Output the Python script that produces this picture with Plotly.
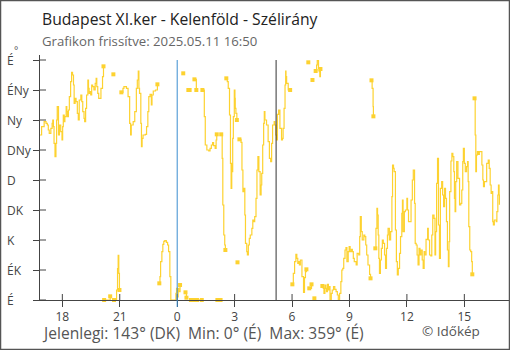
import plotly.graph_objects as go
from datetime import datetime, timedelta

# ---------------- data ----------------
title_text = "Budapest XI.ker - Kelenföld - Szélirány"
subtitle_text = "Grafikon frissítve: 2025.05.11 16:50"
footer_text = "Jelenlegi: 143° (DK) \u00a0Min: 0° (É) \u00a0Max: 359° (É)"
credit_text = "© Időkép"

start_date = "2025-05-10"
times = [
    "16:50", "16:55", "17:03", "17:09", "17:13", "17:16", "17:19", "17:24", "17:28", "17:30",
    "17:32", "17:34", "17:37", "17:40", "17:42", "17:44", "17:48", "17:51", "17:55", "17:59",
    "18:01", "18:03", "18:06", "18:08", "18:12", "18:14", "18:16", "18:19", "18:22", "18:26",
    "18:29", "18:32", "18:35", "18:37", "18:40", "18:43", "18:47", "18:50", "18:53", "18:58",
    "19:01", "19:04", "19:08", "19:10", "19:13", "19:16", "19:20", "19:22", "19:24", "19:27",
    "19:29", "19:32", "19:35", "19:39", "19:43", "19:46", "19:48", "19:51", "19:54", "19:58",
    "20:01", "20:06", "20:09", "20:11", "20:17", "20:23", "20:30", "20:40", "20:42", "20:45",
    "20:50", "20:53", "20:55", "20:57", "20:59", "21:05", "21:10", "21:13", "21:21", "21:26",
    "21:31", "21:34", "21:36", "21:42", "21:47", "21:52", "21:55", "21:58", "22:00", "22:02",
    "22:06", "22:08", "22:10", "22:13", "22:20", "22:24", "22:28", "22:31", "22:35", "22:39",
    "22:41", "22:45", "22:52", "22:58", "23:04", "23:06", "23:08", "23:12", "23:15", "23:18",
    "23:21", "23:26", "23:30", "23:33", "23:37", "23:40", "23:47", "23:54", "23:56", "23:58",
    "00:01", "00:03", "00:05", "00:09", "00:19", "00:26", "00:29", "00:35", "00:39", "00:43",
    "00:50", "00:54", "01:00", "01:02", "01:10", "01:17", "01:19", "01:22", "01:25", "01:28",
    "01:33", "01:39", "01:43", "01:47", "01:51", "01:54", "01:59", "02:02", "02:04", "02:06",
    "02:11", "02:16", "02:18", "02:21", "02:23", "02:26", "02:29", "02:31", "02:34", "02:37",
    "02:40", "02:44", "02:47", "02:49", "02:51", "02:52", "02:54", "02:56", "02:59", "03:01",
    "03:02", "03:04", "03:07", "03:09", "03:15", "03:20", "03:23", "03:26", "03:29", "03:32",
    "03:34", "03:38", "03:40", "03:43", "03:46", "03:49", "03:54", "03:57", "04:00", "04:03",
    "04:07", "04:10", "04:13", "04:16", "04:20", "04:23", "04:25", "04:28", "04:31", "04:33",
    "04:35", "04:40", "04:45", "04:49", "04:53", "04:56", "04:59", "05:04", "05:06", "05:09",
    "05:11", "05:14", "05:18", "05:22", "05:27", "05:30", "05:32", "05:35", "05:38", "05:40",
    "05:41", "05:43", "05:48", "05:54", "06:01", "06:04", "06:08", "06:12", "06:15", "06:18",
    "06:21", "06:23", "06:26", "06:31", "06:36", "06:39", "06:42", "06:45", "06:51", "06:54",
    "07:01", "07:04", "07:10", "07:14", "07:17", "07:19", "07:23", "07:25", "07:27", "07:29",
    "07:35", "07:38", "07:40", "07:43", "07:46", "07:48", "07:51", "07:54", "07:56", "07:59",
    "08:03", "08:06", "08:10", "08:14", "08:18", "08:22", "08:25", "08:29", "08:33", "08:36",
    "08:39", "08:42", "08:46", "08:49", "08:52", "08:56", "08:59", "09:02", "09:06", "09:09",
    "09:12", "09:15", "09:21", "09:24", "09:29", "09:32", "09:34", "09:37", "09:40", "09:45",
    "09:48", "09:51", "09:54", "09:58", "10:03", "10:06", "10:09", "10:11", "10:14", "10:15",
    "10:21", "10:23", "10:26", "10:28", "10:30", "10:32", "10:34", "10:37", "10:40", "10:43",
    "10:46", "10:50", "10:53", "10:56", "10:59", "11:01", "11:05", "11:09", "11:13", "11:15",
    "11:18", "11:20", "11:24", "11:27", "11:30", "11:33", "11:37", "11:40", "11:44", "11:46",
    "11:48", "11:52", "11:55", "12:00", "12:02", "12:05", "12:10", "12:13", "12:17", "12:20",
    "12:24", "12:26", "12:29", "12:32", "12:35", "12:38", "12:41", "12:44", "12:48", "12:51",
    "12:54", "12:56", "13:00", "13:05", "13:07", "13:11", "13:15", "13:18", "13:21", "13:25",
    "13:28", "13:30", "13:33", "13:36", "13:39", "13:42", "13:45", "13:49", "13:52", "13:55",
    "13:58", "14:01", "14:04", "14:07", "14:10", "14:12", "14:14", "14:18", "14:21", "14:24",
    "14:27", "14:29", "14:31", "14:33", "14:36", "14:40", "14:45", "14:49", "14:52", "14:55",
    "14:57", "15:00", "15:03", "15:07", "15:10", "15:12", "15:14", "15:17", "15:20", "15:23",
    "15:25", "15:32", "15:34", "15:36", "15:38", "15:41", "15:44", "15:47", "15:55", "15:58",
    "16:00", "16:03", "16:10", "16:15", "16:18", "16:21", "16:24", "16:26", "16:29", "16:31",
    "16:34", "16:40", "16:42", "16:45", "16:47", "16:49", "16:50",
]
directions = [
    247.5, 260, 267.5, 265, 262.5, 255, 250, 257.5, 265, 270,
    260, 235, 215, 235, 270, 290, 247.5, 262.5, 252.5, 240,
    260, 277.5, 267.5, 275, 290, 282.5, 275, 285, 305, 327.5,
    341.5, 337.5, 322.5, 295, 302.5, 297.5, 280, 270, 300, 307.5,
    297.5, 282.5, 272.5, 267.5, 287.5, 307.5, 330, 317.5, 310, 312.5,
    307.5, 322.5, 320, 315, 325, 332.5, 320, 310, 302.5, 302.5,
    317.5, 335, 350.5, 0, 0, 0, 5.5, 338.5, 0, 0,
    15, 47, 67, 40, 15, 311.5, 317.5, 320, 317.5, 305,
    265, 247.5, 262.5, 267.5, 282.5, 317.5, 330, 343.5, 317.5, 310,
    265, 230, 242.5, 247.5, 248.5, 260, 282.5, 305, 308.5, 292.5,
    307.5, 313.5, 315, 323.5, 25, 35, 57.5, 72.5, 83.5, 88,
    89, 86.5, 82.5, 72.5, 35, 0, 0, 0, 10, 17.5,
    4.5, 17.5, 12.5, 22.5, 340, 11.5, 3.5, 315, 315, 0,
    0, 331, 315, 0, 0, 0, 315, 315, 275, 232.5,
    225, 223.5, 227.5, 232.5, 236, 231.5, 227.5, 240, 248.5, 0,
    0, 0, 248.5, 212.5, 142.5, 97.5, 82.5, 75, 332.5, 327.5,
    317.5, 277.5, 205, 167.5, 205, 192.5, 242.5, 275, 315, 302.5,
    287.5, 280, 270, 56.5, 241, 236.5, 195, 162.5, 167.5, 127.5,
    85, 72.5, 67.5, 82.5, 92.5, 97.5, 107.5, 120, 117.5, 125,
    152.5, 195, 215, 192.5, 157.5, 172.5, 190, 232.5, 265, 282.5,
    270, 262.5, 237.5, 212.5, 207.5, 235, 262.5, 267.5, 262.5, 247.5,
    240, 278.5, 285, 257.5, 240, 242.5, 257.5, 287.5, 322.5, 343.5,
    335, 325, 315, 315, 23.5, 40, 57.5, 68.5, 62.5, 55,
    57.5, 52.5, 60, 35, 11.5, 33.5, 42.5, 46, 356.5, 17.5,
    23.5, 330, 2.5, 343.5, 352.5, 359, 347.5, 342.5, 335, 346.5,
    21, 17.5, 10, 22.5, 17.5, 12.5, 23.5, 15, 20, 0,
    10, 15, 20, 16, 12.5, 7.5, 0, 10, 27.5, 45,
    47.5, 62.5, 75, 78.5, 57.5, 72.5, 80, 72.5, 76, 72.5,
    62.5, 57.5, 52.5, 70, 67.5, 95, 125, 102.5, 90, 97.5,
    95, 82.5, 67.5, 52.5, 38.5, 32.5, 329.5, 317.5, 290, 275.5,
    77.5, 107.5, 137.5, 127.5, 97.5, 62.5, 40, 60, 77.5, 90,
    85, 67.5, 47.5, 77.5, 97.5, 107.5, 90, 102.5, 155, 202.5,
    197.5, 192.5, 105, 57.5, 37.5, 47.5, 70, 95, 130, 150,
    102.5, 132.5, 135, 152.5, 135, 117.5, 117.5, 150, 180, 195,
    145, 85, 82.5, 67.5, 52.5, 77.5, 67.5, 75, 60, 47.5,
    72.5, 67.5, 91, 107.5, 90, 67.5, 66, 97.5, 127.5, 122.5,
    67.5, 102.5, 175, 212.5, 112.5, 62.5, 167.5, 177.5, 157.5, 140,
    167.5, 152.5, 117.5, 75, 50, 87.5, 162.5, 208.5, 220, 215,
    192.5, 152.5, 132.5, 177.5, 207.5, 182.5, 142.5, 145, 165, 207.5,
    227.5, 205, 192.5, 200, 207.5, 177.5, 110, 75, 72.5, 57.5,
    38.5, 302.5, 247.5, 192.5, 217.5, 222.5, 218.5, 222.5, 202.5, 180,
    170, 177.5, 205, 210, 197.5, 172.5, 160, 162.5, 117.5, 112.5,
    120, 117.5, 132.5, 157.5, 172.5, 157.5, 143,
]

x_tick_times = ["2025-05-10 18:00", "2025-05-10 21:00", "2025-05-11 00:00", "2025-05-11 03:00",
                "2025-05-11 06:00", "2025-05-11 09:00", "2025-05-11 12:00", "2025-05-11 15:00"]
x_tick_labels = ["18", "21", "0", "3", "6", "9", "12", "15"]
y_tick_values = [0, 45, 90, 135, 180, 225, 270, 315, 360]
y_tick_labels = ["É", "ÉK", "K", "DK", "D", "DNy", "Ny", "ÉNy", "É"]
x_range = ["2025-05-10 16:50", "2025-05-11 17:20"]
y_range = [0, 367.5]
midnight_time = "2025-05-11 00:00"
sunrise_time = "2025-05-11 05:10"

# ---------------- build series ----------------
base = datetime.strptime(start_date, "%Y-%m-%d")
stamps = []
day = 0
prev = None
for t in times:
    hh, mm = map(int, t.split(":"))
    m = hh * 60 + mm
    if prev is not None and m < prev:
        day += 1
    prev = m
    stamps.append(base + timedelta(days=day, minutes=m))

n = len(directions)
line_x, line_y = [], []
mark_x, mark_y = [], []
for i in range(n):
    brk_before = i > 0 and abs(directions[i] - directions[i - 1]) > 180
    brk_after = i < n - 1 and abs(directions[i + 1] - directions[i]) > 180
    if brk_before:
        line_x.append(stamps[i]); line_y.append(None)
    line_x.append(stamps[i]); line_y.append(directions[i])
    if brk_before or brk_after:
        mark_x.append(stamps[i]); mark_y.append(directions[i])

YELLOW = "#FDD230"
AXIS = "#444444"
W, H = 510, 350
L, R, T, B = 40, 1, 55, 50
PW, PH = W - L - R, H - T - B


def px(xp):
    return (xp - L) / PW


def py(yp):
    return (H - B - yp) / PH


fig = go.Figure()
fig.add_trace(go.Scatter(x=line_x, y=line_y, mode="lines", line=dict(color=YELLOW, width=1.2, shape="hv"),
                         connectgaps=False, hoverinfo="skip", showlegend=False))
fig.add_trace(go.Scatter(x=mark_x, y=mark_y, mode="markers",
                         marker=dict(symbol="square", size=4, color=YELLOW, line=dict(width=0)),
                         hoverinfo="skip", showlegend=False, cliponaxis=False))

shapes = []
# tick marks on the inner side of the axes (ticks cross the axis lines)
for tv in x_tick_times:
    shapes.append(dict(type="line", xref="x", yref="paper", x0=tv, x1=tv, y0=0, y1=6 / PH,
                       line=dict(color=AXIS, width=1)))
for yv in y_tick_values:
    shapes.append(dict(type="line", xref="paper", yref="y", x0=0, x1=6 / PW, y0=yv, y1=yv,
                       line=dict(color=AXIS, width=1)))
# midnight and sunrise lines
shapes.append(dict(type="line", xref="x", yref="paper", x0=midnight_time, x1=midnight_time,
                   y0=-7 / PH, y1=py(60), line=dict(color="#3A8DD0", width=1)))
shapes.append(dict(type="line", xref="x", yref="paper", x0=sunrise_time, x1=sunrise_time,
                   y0=0, y1=py(60), line=dict(color="#333333", width=1)))
# outer frame
shapes.append(dict(type="rect", xref="paper", yref="paper", x0=px(0.5), x1=px(509.5), y0=py(349.5), y1=py(0.5),
                   line=dict(color="#555555", width=1.5), fillcolor="rgba(0,0,0,0)", layer="above"))

FONT = "Open Sans"
annotations = [
    dict(text=title_text, x=px(40), y=py(19), xanchor="left", yanchor="middle",
         font=dict(family=FONT, size=15.7, color="#222222")),
    dict(text=subtitle_text, x=px(40), y=py(41), xanchor="left", yanchor="middle",
         font=dict(family=FONT, size=13.2, color="#666666")),
    dict(text=footer_text, x=px(40), y=py(333), xanchor="left", yanchor="middle",
         font=dict(family=FONT, size=15.6, color="#555555")),
    dict(text=credit_text, x=px(482), y=py(331), xanchor="right", yanchor="middle",
         font=dict(family=FONT, size=13.5, color="#555555")),
    dict(text="°", x=px(12), y=py(50), xanchor="left", yanchor="middle",
         font=dict(family=FONT, size=10, color="#555555")),
]
for yv, lab in zip(y_tick_values, y_tick_labels):
    annotations.append(dict(text=lab, xref="paper", yref="y", x=px(5), y=yv, xanchor="left", yanchor="middle",
                            font=dict(family=FONT, size=12, color="#444444")))
for a in annotations:
    a.setdefault("xref", "paper")
    a.setdefault("yref", "paper")
    a["showarrow"] = False

fig.update_layout(
    width=W, height=H, autosize=False,
    margin=dict(l=L, r=R, t=T, b=B, pad=0),
    paper_bgcolor="white", plot_bgcolor="white",
    shapes=shapes, annotations=annotations,
    xaxis=dict(type="date", range=x_range, showgrid=False, zeroline=False, showline=True, linecolor=AXIS,
               linewidth=1, ticks="outside", ticklen=6, tickcolor=AXIS, tickwidth=1,
               tickvals=x_tick_times, ticktext=x_tick_labels,
               tickfont=dict(family=FONT, size=12, color="#444444"), fixedrange=True),
    yaxis=dict(range=y_range, showgrid=False, zeroline=False, showline=True, linecolor=AXIS, linewidth=1,
               ticks="outside", ticklen=6, tickcolor=AXIS, tickwidth=1, tickvals=y_tick_values,
               showticklabels=False, fixedrange=True),
)

fig.write_html("out.html", config={"displayModeBar": False},
               post_script="document.body.style.margin='0px';document.body.style.padding='0px';")
